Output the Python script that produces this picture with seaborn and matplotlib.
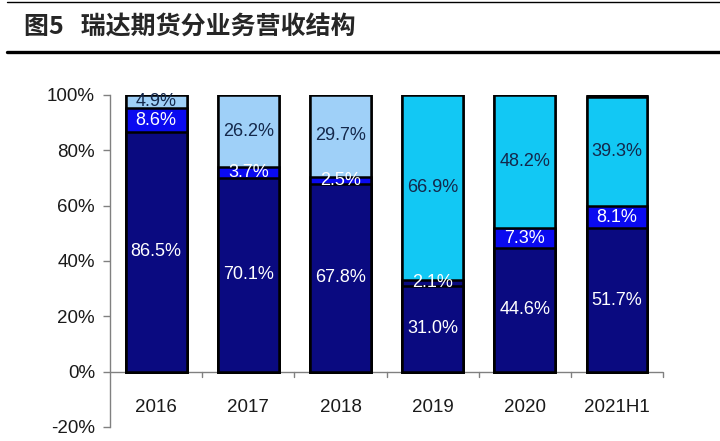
import matplotlib
matplotlib.use("Agg")
import matplotlib.pyplot as plt
import seaborn as sns
import numpy as np
from matplotlib.lines import Line2D

# 数据
years = ['2016', '2017', '2018', '2019', '2020', '2021H1']
navy_vals = [86.5, 70.1, 67.8, 31.0, 44.6, 51.7]
blue_vals = [8.6, 3.7, 2.5, 2.1, 7.3, 8.1]
light_vals = [4.9, 26.2, 29.7, 0.0, 0.0, 0.0]
cyan_vals = [0.0, 0.0, 0.0, 66.9, 48.2, 39.3]
other_vals = [0.0, 0.0, 0.0, 0.0, 0.0, 0.9]
title = '图5   瑞达期货分业务营收结构'

NAVY = '#0a0a80'
BLUE = '#0a0af0'
LIGHT = '#9fd0f8'
CYAN = '#12c8f4'
TXT_DARK = '#14284b'

sns.set_theme(style="white")
plt.rcParams['font.family'] = ['Liberation Sans', 'Noto Sans CJK SC', 'DejaVu Sans']

navy = np.array(navy_vals)
blue = np.array(blue_vals)
light = np.array(light_vals)
cyan = np.array(cyan_vals)
other = np.array(other_vals)

c1 = navy
c2 = c1 + blue
c3 = c2 + light + cyan
c4 = c3 + other

fig = plt.figure(figsize=(7.2, 4.41), dpi=100)
ax = fig.add_axes([0.153, 0.032, 0.768, 0.753])

# 堆叠：先画总高，再逐层覆盖
top_colors = [LIGHT, LIGHT, LIGHT, CYAN, CYAN, CYAN]
mid_colors = [BLUE, BLUE, BLUE, NAVY, BLUE, BLUE]
kw = dict(width=0.66, edgecolor='black', linewidth=1.8, legend=False, ax=ax, saturation=1)
sns.barplot(x=years, y=c4, hue=years, palette=['#000030'] * 6, **kw)
sns.barplot(x=years, y=c3, hue=years, palette=top_colors, **kw)
sns.barplot(x=years, y=c2, hue=years, palette=mid_colors, **kw)
sns.barplot(x=years, y=c1, hue=years, palette=[NAVY] * 6, **kw)

# 数据标签
fs = 13
for i in range(len(years)):
    ax.text(i, c1[i] / 2, f'{navy[i]:.1f}%', ha='center', va='center', color='white', fontsize=fs)
    ax.text(i, c1[i] + blue[i] / 2, f'{blue[i]:.1f}%', ha='center', va='center', color='white', fontsize=fs)
    top = light[i] + cyan[i]
    ax.text(i, c2[i] + top / 2, f'{top:.1f}%', ha='center', va='center', color=TXT_DARK, fontsize=fs)

ax.set_ylim(-20, 100)
ax.set_xlim(-0.5, 5.5)
ax.set_yticks(np.arange(-20, 101, 20))
ax.set_yticklabels([f'{v}%' for v in range(-20, 101, 20)], fontsize=13.5, color='#1a1a1a')
ax.set_xticks([])
ax.set_xlabel('')
ax.set_ylabel('')

for s in ['top', 'right', 'bottom']:
    ax.spines[s].set_visible(False)
ax.spines['left'].set_color('#808080')
ax.spines['left'].set_linewidth(1.0)
ax.tick_params(axis='y', left=True, length=5, width=1, color='#808080', pad=6)

# 零轴及分类刻度
ax.axhline(0, color='#808080', linewidth=1.0, zorder=0.5)
for b in np.arange(0.5, 5.6, 1.0):
    ax.plot([b, b], [0, -2], color='#808080', linewidth=1.0, clip_on=False)

for i, y in enumerate(years):
    ax.text(i, -13, y, ha='center', va='center', fontsize=13.5, color='#1a1a1a')

# 标题与横线
fig.text(0.033, 0.938, title, fontsize=18, fontweight='bold', ha='left', va='center',
         family=['Noto Sans CJK SC', 'DejaVu Sans'])
fig.add_artist(Line2D([0.01, 1.0], [0.996, 0.996], color='black', linewidth=1.0))
fig.add_artist(Line2D([0.01, 1.0], [0.882, 0.882], color='black', linewidth=2.4))

fig.savefig('out.png', dpi=100)
